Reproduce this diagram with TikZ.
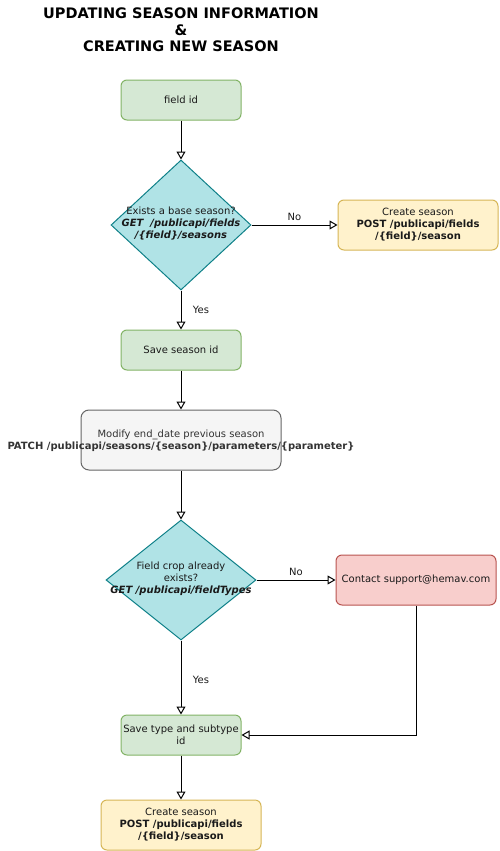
\documentclass[tikz,border=0pt]{standalone}
\usepackage{fontspec}
\setmainfont{DejaVu Sans}
\usetikzlibrary{arrows.meta,shapes.geometric}
\definecolor{gfill}{HTML}{D5E8D4}\definecolor{gline}{HTML}{82B366}
\definecolor{tfill}{HTML}{B0E3E6}\definecolor{tline}{HTML}{0E8088}
\definecolor{yfill}{HTML}{FFF2CC}\definecolor{yline}{HTML}{D6B656}
\definecolor{rfill}{HTML}{F8CECC}\definecolor{rline}{HTML}{B85450}
\definecolor{sfill}{HTML}{F5F5F5}\definecolor{sline}{HTML}{666666}
\definecolor{stext}{HTML}{333333}
\definecolor{dtext}{HTML}{1A1A1A}
\begin{document}
\begin{tikzpicture}[x=1pt,y=-1pt,
  txt/.style={font=\fontsize{10}{12}\selectfont, align=center, inner sep=0pt, text=dtext},
  base/.style={txt, rounded corners=6pt, draw, line width=1pt},
  greenbox/.style={base, fill=gfill, draw=gline, minimum width=120pt, minimum height=40pt},
  yellowbox/.style={base, fill=yfill, draw=yline, minimum width=160pt, minimum height=50pt},
  redbox/.style={base, fill=rfill, draw=rline, minimum width=160pt, minimum height=50pt},
  graybox/.style={base, rounded corners=8pt, fill=sfill, draw=sline, minimum width=200pt, minimum height=60pt},
  decision/.style={diamond, draw=tline, fill=tfill, line width=1pt, inner sep=0pt},
  flow/.style={line width=1pt, -{Triangle[length=8pt,width=9pt,fill=white]}},
  elabel/.style={txt}
]
\useasboundingbox (0,0) rectangle (499,851);

\node[font=\bfseries\fontsize{14.5}{16.5}\selectfont, align=center, inner sep=0pt] (title) at (181,30)
  {UPDATING SEASON INFORMATION\\\&\\CREATING NEW SEASON};

\node[greenbox] (fid) at (181,100) {field id};

\node[decision, minimum width=140pt, minimum height=130pt] (d1) at (181,225) {};
\node[txt] (d1t) at (181,224) {Exists a base season?\\\textbf{\textit{GET\ \ /publicapi/fields}}\\\textbf{\textit{/\{field\}/seasons}}};

\node[yellowbox] (cs1) at (418,225) {Create season\\\textbf{POST /publicapi/fields}\\\textbf{/\{field\}/season}};

\node[greenbox] (ssid) at (181,350) {Save season id};

\node[graybox] (mod) at (181,440) {};
\node[txt] (modt) at (181,441) {\textcolor{stext}{Modify end\_date previous season}\\\textcolor{stext}{\textbf{PATCH /publicapi/seasons/\{season\}/parameters/\{parameter\}}}};

\node[decision, minimum width=150pt, minimum height=120pt] (d2) at (181,580) {};
\node[txt] (d2t) at (181,579) {Field crop already\\exists?\\\textbf{\textit{GET /publicapi/fieldTypes}}};

\node[redbox] (contact) at (416,580) {Contact support@hemav.com};

\node[greenbox] (stype) at (181,735) {Save type and subtype\\id};

\node[yellowbox] (cs2) at (181,825) {Create season\\\textbf{POST /publicapi/fields}\\\textbf{/\{field\}/season}};

\draw[flow] (fid.south) -- (d1.north);
\draw[flow] (d1.east) -- node[elabel, pos=0.5, yshift=8pt] (no1) {No} (cs1.west);
\draw[flow] (d1.south) -- node[elabel, xshift=20pt] (yes1) {Yes} (ssid.north);
\draw[flow] (ssid.south) -- (mod.north);
\draw[flow] (mod.south) -- (d2.north);
\draw[flow] (d2.east) -- node[elabel, yshift=8pt] (no2) {No} (contact.west);
\draw[flow] (d2.south) -- node[elabel, xshift=20pt, pos=0.53] (yes2) {Yes} (stype.north);
\draw[flow] (contact.south) |- (stype.east);
\draw[flow] (stype.south) -- (cs2.north);
\end{tikzpicture}
\end{document}
